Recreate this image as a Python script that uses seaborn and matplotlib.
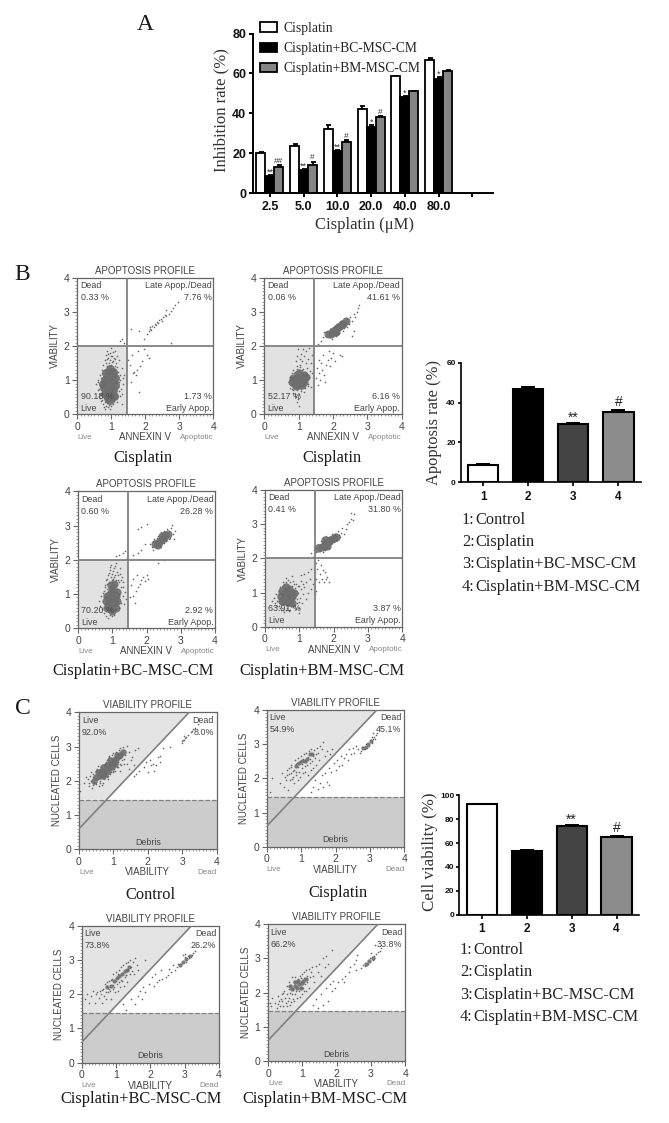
import matplotlib
matplotlib.use('Agg')
import matplotlib.pyplot as plt
from matplotlib.ticker import MultipleLocator
import seaborn as sns
import pandas as pd

W, H = 669, 1123
SERIF = 'Liberation Serif'
SANS  = 'Liberation Sans'

# ── DATA: panel A ─────────────────────────────────────
doses     = ['2.5', '5.0', '10.0', '20.0', '40.0', '80.0']
groups_a  = ['Cisplatin', 'Cisplatin+BC-MSC-CM', 'Cisplatin+BM-MSC-CM']
cis_vals  = [20, 23.5, 32, 42, 58.5, 66.5]
bc_vals   = [8.5, 11.5, 21, 33, 48, 57]
bm_vals   = [13, 14, 25.5, 38, 51, 61]
cis_errs  = [0.4, 1.2, 2.0, 1.5, 0.4, 1.0]
bc_errs   = [0.4, 0.5, 0.7, 1.0, 0.5, 1.3]
bm_errs   = [0.8, 1.6, 1.0, 0.5, 0.4, 0.7]
bc_marks  = ['**', '**', '**', '*', '*', '*']
bm_marks  = ['##', '#', '#', '#', '', '']

# ── DATA: side bars ───────────────────────────────────
bar_labels = ['1', '2', '3', '4']
apo_vals   = [8.7, 47, 29, 35.5]
apo_errs   = [0.5, 0.9, 0.8, 0.9]
via_vals   = [92.5, 53, 74, 65]
via_errs   = [0.5, 0.8, 1.0, 1.0]
side_marks = ['', '', '**', '#']
key_nums   = ['1:', '2:', '3:', '4:']
key_lines  = ['Control', 'Cisplatin', 'Cisplatin+BC-MSC-CM', 'Cisplatin+BM-MSC-CM']

# ── DATA: flow panels ─────────────────────────────────
apo_pct = [['0.33 %', '7.76 %', '90.18 %', '1.73 %'],
           ['0.06 %', '41.61 %', '52.17 %', '6.16 %'],
           ['0.60 %', '26.28 %', '70.20 %', '2.92 %'],
           ['0.41 %', '31.80 %', '63.91 %', '3.87 %']]
via_pct = [['92.0%', '8.0%'], ['54.9%', '45.1%'], ['73.8%', '26.2%'], ['66.2%', '33.8%']]

b1_core = [(.95,.85),(.9,.75),(1.0,.8),(.85,.9),(.95,1.0),(1.05,.95),(.9,.6),(1.0,.65),(.92,.5),(.98,1.1),
           (.88,1.05),(1.02,1.15),(.95,1.25),(.97,.42),(.9,.47),(1.0,.52),(.93,.7),(.85,.65),(1.05,.72),(.97,1.33),
           (.78,.8),(1.12,.85),(.8,1.0),(1.1,1.05),(.82,.6),(1.08,.55),(.85,1.2),(1.05,1.25),(.75,.9)]
b1_pts = [(.55,.9),(.6,.7),(.62,1.0),(.65,.55),(.66,.85),(.68,1.15),(.7,.4),(.7,.7),(.72,1.3),(.73,.95),(.75,.3),(.75,.6),
          (.76,1.45),(.78,1.1),(.78,.2),(.8,.35),(.8,1.6),(.8,1.3),(.82,.15),(.83,1.75),(.85,1.5),(.85,.25),(.87,1.4),(.88,1.85),
          (.9,1.65),(.9,.2),(.92,1.5),(.95,1.8),(.95,.15),(.97,1.6),(1.0,1.95),(1.0,1.45),(1.0,.25),(1.03,1.7),(1.05,1.55),(1.05,.3),
          (1.08,1.3),(1.1,1.85),(1.1,.45),(1.12,1.1),(1.13,1.5),(1.15,.7),(1.15,.95),(1.18,.35),(1.2,1.25),(1.2,.8),(1.22,1.6),(1.25,.55),
          (1.25,1.0),(1.28,.75),(1.3,1.35),(1.32,.3),(1.35,.9),(1.38,1.15),(1.25,2.15),(1.3,2.2),(1.38,2.1),(.7,1.05),(.74,.8),(.8,.5),
          (1.12,.6),(1.1,1.4),(.78,.9),(1.15,1.2),(.82,1.2),(1.18,.55),(.68,.6),(.84,.42),(1.22,.95),(1.08,1.65),
          (.86,1.62),(.9,1.78),(.93,1.42),(.98,1.72),(1.02,1.52),(1.06,1.82),(1.12,1.62),(1.16,1.38),(1.18,1.72),(.72,1.2),(.64,.75),(.6,.95),
          (.68,.48),(.74,.42),(.88,.32),(.94,.28),(1.08,.38),(1.14,.48),(1.22,.68),(1.26,1.15),(1.3,.6),(1.33,1.05),
          (1.5,1.6),(1.55,1.45),(1.58,.95),(1.6,1.75),(1.65,1.2),(1.68,1.25),(1.72,1.15),(1.75,1.3),(1.78,1.85),(1.8,.65),(1.85,1.4),(1.9,1.55),
          (1.95,1.9),(2.05,1.75),(2.1,1.65),(1.58,2.5),(1.8,2.45),(1.95,2.2),(2.05,2.35),(2.75,2.1),
          (2.1,2.45),(2.13,2.5),(2.15,2.55),(2.18,2.48),(2.2,2.6),(2.25,2.55),(2.28,2.65),(2.3,2.62),(2.35,2.7),(2.38,2.68),(2.4,2.75),(2.45,2.8),
          (2.5,2.72),(2.52,2.85),(2.58,2.9),(2.62,2.88),(2.7,2.95),(2.75,3.02),(2.8,3.1),(2.88,3.2),(2.95,3.3),(2.6,3.05)]

b2_core = [(1.0,1.0),(.95,.95),(1.05,1.05),(1.1,1.1),(.9,1.0),(1.0,.85),(1.05,.95),(1.12,1.0),(.95,1.1),(.88,.9),(1.15,1.15),
           (.85,1.05),(1.15,.95),(.82,.95),(1.2,1.1),(.92,.82),(1.1,.85),(1.0,1.2),
           (1.85,2.35),(1.95,2.35),(2.05,2.4),(2.0,2.45),(2.1,2.5),(2.15,2.55),(2.2,2.6),(2.25,2.65),(2.3,2.65),(2.38,2.72),(2.1,2.42)]
b2_pts = [(.72,.95),(.75,1.1),(.78,.85),(.8,1.2),(.8,.75),(.82,1.05),(.85,1.3),(.85,.7),(.88,.6),(.9,1.25),(.92,.5),(.95,1.4),(.95,.72),(.98,.45),
          (1.0,1.3),(1.02,.6),(1.05,1.45),(1.08,.75),(1.1,1.3),(1.12,.82),(1.15,.65),(1.18,1.25),(1.2,.95),(1.22,1.15),(1.25,1.35),(1.28,.9),(1.3,1.1),(1.35,.8),(1.38,1.2),
          (.92,1.55),(.95,1.7),(.98,1.9),(1.05,1.62),(1.08,1.78),(1.1,1.55),(1.12,1.92),(1.15,1.7),(1.2,1.5),(1.22,1.85),(1.28,1.62),(1.3,1.95),(1.35,1.5),(1.4,1.75),(.95,.35),(1.0,.25),
          (.74,1.0),(.76,.78),(.84,.62),(.86,1.22),(.94,1.32),(1.04,1.38),(1.06,.68),(1.14,1.32),(1.18,.78),(1.24,1.02),(1.26,.82),(1.32,1.28),(.9,.55),(.8,1.1),
          (1.5,1.05),(1.52,1.35),(1.55,.85),(1.58,1.6),(1.6,1.2),(1.62,1.0),(1.65,1.5),(1.68,1.3),(1.72,1.75),(1.75,1.15),(1.78,.95),(1.8,1.45),(1.85,1.6),(1.88,1.85),(1.9,1.4),(1.95,1.65),(2.0,1.8),(2.05,1.55),(2.2,1.75),(2.25,1.7),
          (1.55,2.05),(1.65,2.15),(1.72,2.25),(1.75,2.4),(1.8,2.28),(1.82,2.42),(1.9,2.25),(1.92,2.5),(1.98,2.2),(2.02,2.55),(2.08,2.3),(2.12,2.62),(2.18,2.38),(2.22,2.72),(2.28,2.45),(2.32,2.52),(2.4,2.55),(2.42,2.8),(2.48,2.65),(2.5,2.85),(2.55,2.72),(2.6,2.95),(2.65,2.85),(2.62,2.45),(2.7,3.0),(2.72,3.12),(2.75,3.2),(2.55,2.3)]

b3_core = [(1.0,.8),(.95,.7),(1.05,.85),(.9,.85),(1.0,.95),(1.08,.75),(.98,.6),(1.03,1.05),(.92,1.0),(1.1,.95),(.88,.7),(1.0,1.15),(.95,1.25),(.98,.5),(1.05,1.3),
           (.82,.8),(1.15,.8),(.85,.95),(1.15,1.05),(.85,.6),(1.1,.6),
           (2.25,2.45),(2.32,2.5),(2.38,2.55),(2.45,2.6),(2.52,2.65),(2.45,2.7),(2.55,2.72),(2.62,2.75),(2.35,2.42)]
b3_pts = [(.6,.8),(.65,.65),(.68,.95),(.7,.55),(.72,.8),(.75,1.1),(.75,.45),(.78,.7),(.8,1.25),(.8,.95),(.82,.35),(.82,1.4),(.85,.55),(.85,1.15),(.88,1.55),(.88,.3),(.9,1.35),(.92,1.7),(.93,.4),(.95,1.5),
          (.97,1.85),(1.0,1.6),(1.0,.35),(1.03,1.45),(1.05,1.75),(1.05,.4),(1.08,1.55),(1.1,1.25),(1.1,1.9),(1.12,.55),(1.13,1.05),(1.15,1.65),(1.15,.8),(1.18,1.4),(1.2,.6),(1.2,1.0),(1.22,1.75),(1.25,1.2),(1.25,.75),(1.28,1.5),(1.3,.95),(1.32,1.35),(1.35,.7),(1.38,1.05),(1.4,.85),(1.1,2.1),(1.2,2.15),(1.3,2.2),(1.38,2.25),(1.42,2.05),
          (.78,.6),(.86,.75),(.9,1.1),(1.12,.7),(1.15,1.15),(.76,.9),(1.18,.9),(.84,1.3),
          (.86,1.45),(.9,1.62),(.94,1.78),(.98,1.42),(1.02,1.68),(1.06,1.5),(1.08,1.82),(1.12,1.42),(1.16,1.55),(1.2,1.35),(1.24,1.6),(1.26,1.42),(1.3,1.22),(.78,1.2),(.72,1.02),
          (1.52,.9),(1.55,1.25),(1.6,.95),(1.62,1.45),(1.65,.75),(1.7,1.1),(1.72,1.55),(1.75,1.2),(1.8,1.3),(1.85,1.4),(1.9,1.5),(1.95,1.38),(2.0,1.55),(2.05,1.45),(1.6,2.15),(1.75,2.2),(1.85,2.3),(2.35,1.9),(2.5,2.0),
          (1.75,2.9),(1.85,2.95),(2.0,3.05),(1.95,2.45),(2.1,2.45),(2.15,2.38),(2.18,2.55),(2.2,2.3),(2.22,2.62),(2.28,2.35),(2.3,2.65),(2.35,2.7),(2.4,2.4),(2.42,2.8),(2.5,2.5),(2.52,2.85),(2.58,2.55),(2.6,2.9),(2.65,2.62),(2.7,2.65),(2.72,2.92),(2.75,3.02),(2.78,2.75),(2.82,2.85),(2.8,2.6)]

b4_core = [(.65,.9),(.6,.85),(.7,.95),(.55,.95),(.65,1.05),(.72,.8),(.62,.75),(.75,1.0),(.68,.72),(.58,.78),(.8,.9),(.55,.85),(.7,1.1),
           (.47,.9),(.5,.75),(.85,1.0),(.78,.7),(.6,1.15),(.5,1.05),
           (1.55,2.3),(1.65,2.32),(1.72,2.35),(1.78,2.45),(1.85,2.5),(1.8,2.35),(1.9,2.55),(2.0,2.6),(2.08,2.62),(1.75,2.55)]
b4_pts = [(.2,.75),(.25,.85),(.3,.7),(.32,.95),(.35,.6),(.38,.85),(.4,1.05),(.42,.75),(.45,.55),(.45,1.15),(.48,.65),(.5,1.2),(.5,.95),(.52,.5),(.55,1.25),(.55,.65),(.58,1.1),(.6,.5),(.62,1.3),(.65,.55),(.68,1.2),(.7,.45),(.72,1.3),(.75,.6),(.78,1.2),(.8,.7),(.82,1.35),(.85,.6),(.85,1.05),(.88,.85),(.9,1.25),(.92,.7),(.95,1.0),(.98,.55),(1.0,1.2),(1.02,.85),(1.05,1.35),(1.08,.7),(1.1,.95),(1.15,1.15),(1.18,.8),(1.2,1.3),(1.25,1.0),(1.3,1.4),(1.35,1.1),(1.4,1.25),(1.05,1.5),(1.15,1.55),(1.25,1.6),(1.35,1.7),(1.0,.4),(.6,1.42),(.78,1.48),
          (.36,.75),(.4,.6),(.44,1.0),(.46,.48),(.52,1.32),(.56,.42),(.66,1.38),(.74,.5),(.84,1.25),(.9,.52),(.96,1.2),(1.0,.72),(1.06,1.1),(1.12,1.25),(.94,.82),(.88,1.12),
          (1.45,1.6),(1.48,1.85),(1.5,1.4),(1.52,1.7),(1.55,1.95),(1.58,1.3),(1.6,1.55),(1.62,1.8),(1.65,1.4),(1.68,1.65),(1.72,1.3),(1.75,1.6),(1.78,1.4),(1.82,1.45),(1.85,1.3),(1.5,1.05),(1.45,.95),
          (1.35,2.15),(1.4,2.05),(1.42,2.25),(1.48,2.3),(1.5,2.18),(1.55,2.42),(1.6,2.22),(1.62,2.5),(1.68,2.2),(1.7,2.6),(1.75,2.25),(1.78,2.65),(1.85,2.3),(1.88,2.62),(1.92,2.42),(1.95,2.72),(2.0,2.48),(2.05,2.72),(2.1,2.55),(2.12,2.8),(2.15,2.68),(2.18,2.62),(2.22,2.75),(2.25,2.9),(2.3,2.7),(2.35,2.85),(2.4,3.0),(2.45,3.05),(2.5,3.15),(2.55,3.12),(2.6,3.3),(2.52,3.32)]

c1_core = [(.5,2.1),(.6,2.15),(.65,2.25),(.72,2.3),(.78,2.35),(.82,2.45),(.88,2.42),(.92,2.52),(.98,2.55),(1.02,2.62),(1.08,2.65),(1.15,2.72),(1.2,2.75),(1.28,2.85),(.7,2.15),(.85,2.3),
           (.45,2.0),(.55,2.25),(.75,2.2),(.7,2.4),(.95,2.4),(.9,2.6),(1.05,2.5),(1.1,2.75)]
c1_pts = [(.0,1.9),(.02,1.7),(.15,1.95),(.2,2.1),(.25,2.05),(.28,1.85),(.3,1.95),(.32,2.15),(.35,2.0),(.38,1.8),(.4,2.1),(.42,2.2),(.45,1.95),(.48,2.3),(.5,1.9),(.52,2.35),(.55,2.05),(.58,1.85),(.6,2.35),(.62,2.0),(.65,2.4),(.68,2.1),(.7,1.95),(.72,2.45),(.75,2.15),(.78,2.55),(.8,2.1),(.82,2.6),(.85,2.15),(.88,2.7),(.9,2.2),(.92,2.35),(.95,2.75),(.98,2.3),(1.0,2.8),(1.02,2.35),(1.05,2.45),(1.08,2.85),(1.1,2.4),(1.12,2.55),(1.15,2.9),(1.18,2.5),(1.2,2.95),(1.25,2.6),(1.28,2.98),(1.3,2.65),(1.35,2.75),(1.38,3.02),(1.4,2.5),(1.45,2.85),(1.5,2.6),(1.55,2.7),(1.6,2.45),(1.62,2.9),(1.65,2.2),(1.7,2.95),(1.2,2.3),(1.45,2.35),
          (.36,2.25),(.42,1.88),(.5,2.28),(.56,2.42),(.6,1.95),(.66,1.88),(.74,2.05),(.76,2.5),(.84,2.05),(.86,2.72),(.94,2.25),(1.0,2.25),(1.06,2.3),(1.14,2.4),(1.22,2.45),(1.32,2.5),
          (1.6,2.15),(1.75,2.3),(1.9,2.4),(1.95,2.55),(2.0,2.25),(2.05,2.62),(2.1,2.45),(2.15,2.5),(2.18,2.3),(2.25,2.45),(2.3,2.7),(2.35,2.55),(2.35,2.72),(2.45,2.95),(2.65,3.0),
          (2.98,3.15),(3.02,3.2),(3.05,3.18),(3.08,3.25),(3.12,3.28),(3.18,3.35),(3.25,3.42),(3.28,3.45),(3.32,3.5),(3.38,3.55),(3.45,3.65),(3.05,3.3),(3.0,3.1)]

c2_core = [(.85,2.35),(.95,2.45),(1.02,2.5),(1.1,2.52),(1.18,2.58),(1.25,2.7),(1.32,2.72),(2.8,2.88),(2.88,2.93),(2.95,3.0),(3.02,3.08)]
c2_pts = [(.1,1.6),(.15,2.0),(.4,1.85),(.45,2.15),(.5,1.75),(.52,2.05),(.55,1.95),(.58,2.25),(.6,2.1),(.62,1.65),(.65,2.3),(.68,1.95),(.7,2.15),(.72,2.4),(.75,2.05),(.78,1.85),(.8,2.25),(.82,2.55),(.85,2.1),(.88,2.45),(.9,1.95),(.92,2.6),(.95,2.2),(.98,2.05),(1.0,2.65),(1.02,2.3),(1.05,2.15),(1.08,2.7),(1.1,2.35),(1.12,2.2),(1.15,2.75),(1.18,2.4),(1.2,2.1),(1.22,2.8),(1.25,2.45),(1.28,2.25),(1.3,2.85),(1.32,2.5),(1.35,2.3),(1.38,2.82),(1.4,2.6),(1.42,2.4),(1.45,2.9),(1.5,2.75),(1.52,2.55),(1.55,2.95),(1.6,2.85),(1.65,3.05),(1.7,2.65),(1.75,2.8),(1.85,2.7),(1.9,2.85),
          (.66,2.12),(.7,2.32),(.74,1.98),(.76,2.22),(.84,2.42),(.86,2.18),(.92,2.32),(.96,2.52),(1.04,2.42),(1.06,2.58),(1.14,2.48),(1.2,2.62),(1.26,2.58),(1.34,2.65),(1.44,2.7),
          (1.3,1.6),(1.35,1.75),(1.4,1.95),(1.48,1.7),(1.55,1.85),(1.6,2.1),(1.65,1.75),(1.7,2.15),(1.75,1.9),(1.8,2.3),(1.82,1.8),(1.88,2.2),(1.95,2.45),(2.0,2.25),(2.05,2.55),(2.1,2.35),(2.15,2.65),(2.2,2.4),(2.25,2.6),(2.3,2.7),(2.35,2.55),(2.4,2.85),(2.45,2.7),(2.5,2.9),(2.55,2.75),(2.6,2.95),(2.65,2.85),(2.7,2.75),
          (2.75,2.8),(2.78,2.92),(2.85,2.85),(2.9,3.0),(2.98,2.95),(3.02,3.12),(3.05,3.02),(3.08,3.15),(3.12,3.2),(3.15,3.15),(3.18,3.28),(3.2,3.32),(3.1,3.32),(3.05,3.2)]

c3_core = [(.75,2.2),(.85,2.25),(.95,2.38),(1.02,2.48),(1.1,2.52),(1.18,2.58),(1.25,2.68),(1.32,2.72),(1.38,2.8),(2.85,2.85),(2.95,2.93),(3.05,3.02),(3.15,3.12)]
c3_pts = [(.1,1.85),(.15,2.0),(.22,1.75),(.28,1.95),(.32,2.1),(.38,1.75),(.42,2.0),(.45,2.05),(.5,1.9),(.52,2.1),(.55,2.0),(.6,1.75),(.62,2.15),(.65,1.95),(.68,2.3),(.7,2.05),(.72,1.85),(.75,2.35),(.78,2.05),(.8,2.4),(.82,2.1),(.85,1.85),(.88,2.45),(.9,2.15),(.92,2.6),(.95,2.2),(.98,2.05),(1.0,2.65),(1.02,2.3),(1.05,2.1),(1.08,2.7),(1.1,2.35),(1.12,2.2),(1.15,2.78),(1.18,2.4),(1.2,2.85),(1.22,2.25),(1.25,2.5),(1.28,2.9),(1.3,2.55),(1.32,2.35),(1.35,2.95),(1.4,2.6),(1.42,3.0),(1.45,2.8),(1.5,2.95),(1.52,2.6),(1.55,3.05),(1.6,2.85),(1.65,2.7),(1.75,2.5),(1.85,3.0),
          (.58,2.12),(.72,2.25),(.8,2.15),(.86,2.42),(.92,2.28),(1.0,2.4),(1.06,2.6),(1.14,2.42),(1.2,2.62),(1.28,2.55),(1.36,2.7),(1.46,2.68),
          (1.2,1.7),(1.3,1.55),(1.45,1.85),(1.55,1.7),(1.65,1.95),(1.7,2.1),(1.75,1.85),(1.8,2.2),(1.85,2.05),(1.95,2.3),(2.05,2.5),(2.1,2.25),(2.15,2.6),(2.2,2.35),(2.25,2.42),(2.3,2.72),(2.35,2.45),(2.45,2.5),(2.5,2.55),(2.55,2.75),(2.6,2.65),(2.65,2.85),
          (2.72,2.72),(2.78,2.8),(2.82,2.88),(2.9,2.88),(3.0,3.1),(3.05,2.95),(3.1,3.12),(3.12,3.05),(3.2,3.15),(3.25,3.2),(3.3,3.25),(2.95,3.15),(3.02,3.18)]

c4_core = [(.7,2.1),(.8,2.2),(.85,2.15),(.9,2.25),(.98,2.28),(1.02,2.35),(1.1,2.4),(.78,2.3),(.65,2.2),(.95,2.15),(.88,2.35),(2.85,2.85),(2.95,2.92),(3.05,3.02)]
c4_pts = [(.05,1.7),(.1,1.6),(.12,1.85),(.2,1.7),(.25,1.55),(.3,1.9),(.32,1.75),(.35,1.6),(.4,1.95),(.42,1.75),(.45,1.6),(.48,2.05),(.5,1.85),(.52,1.7),(.55,1.95),(.58,1.75),(.6,2.1),(.62,1.85),(.65,1.65),(.68,2.2),(.7,1.95),(.72,1.8),(.75,2.35),(.78,1.95),(.8,2.45),(.82,2.05),(.85,1.85),(.88,2.4),(.9,2.05),(.92,2.5),(.95,2.15),(.98,1.95),(1.0,2.55),(1.02,2.15),(1.05,2.6),(1.08,2.25),(1.1,2.05),(1.12,2.65),(1.15,2.3),(1.18,2.7),(1.2,2.15),(1.22,2.45),(1.28,2.75),(1.3,2.5),(1.35,2.3),(1.4,2.78),(1.45,2.6),(1.5,2.85),(1.55,2.5),(1.6,3.0),(1.65,2.75),(1.7,3.08),(1.75,2.85),(1.85,3.25),(.55,2.2),(.6,2.3),(.7,2.45),
          (.28,1.68),(.38,1.82),(.44,2.0),(.56,1.62),(.64,1.98),(.68,1.72),(.74,2.1),(.76,1.75),(.84,2.32),(.92,1.88),(.96,2.42),(1.04,2.05),(1.06,2.42),(1.14,2.5),(1.24,2.6),
          (1.3,1.65),(1.4,1.8),(1.45,1.55),(1.55,1.95),(1.6,1.65),(1.68,2.15),(1.75,1.75),(1.8,2.25),(1.85,2.05),(1.9,2.35),(1.95,2.15),(2.05,2.3),(2.15,2.4),(2.2,2.3),(2.25,2.5),(2.35,2.6),(2.4,2.75),(2.5,2.85),(2.55,2.95),(2.6,3.1),(2.55,2.65),
          (2.72,2.72),(2.78,2.82),(2.82,2.78),(2.9,2.85),(2.98,3.0),(3.05,2.95),(3.1,3.08),(3.15,3.12),(3.2,3.2),(3.25,3.22),(3.3,3.3),(3.12,3.4),(3.0,3.15)]

# ── SETUP ─────────────────────────────────────────────
sns.set_theme(style='ticks')
plt.rcParams['font.family'] = [SANS, 'DejaVu Sans']

fig = plt.figure(figsize=(W / 100, H / 100), dpi=100, facecolor='white')


def px_axes(left, top, right, bottom):
    return fig.add_axes([left / W, 1 - bottom / H, (right - left) / W, (bottom - top) / H])


def ft(x, y, s, size=11.8, family=SERIF, color='#1a1a1a', **kw):
    kw.setdefault('ha', 'center')
    kw.setdefault('va', 'center')
    fig.text(x / W, 1 - y / H, s, fontsize=size, family=family, color=color, **kw)


def upper_errors(ax, container, vals, errs, width=1.3, cap=2.5):
    xs = [b.get_x() + b.get_width() / 2 for b in container]
    ax.errorbar(xs, vals, yerr=[[0] * len(errs), errs], fmt='none', ecolor='black',
                elinewidth=width, capsize=cap, capthick=width, zorder=1)
    return xs


# ── PANEL A ───────────────────────────────────────────
ax = px_axes(253, 33.5, 492.7, 193)
long_a = pd.DataFrame({
    'dose': doses * 3,
    'group': [g for g in groups_a for _ in doses],
    'rate': cis_vals + bc_vals + bm_vals,
})
sns.barplot(data=long_a, x='dose', y='rate', hue='group', order=doses + [''],
            palette=['white', 'black', '#858585'], saturation=1, errorbar=None,
            edgecolor='black', linewidth=1.3, width=0.8, gap=0, ax=ax, zorder=2)
for cont, vals, errs, marks in zip(ax.containers[:3], [cis_vals, bc_vals, bm_vals],
                                   [cis_errs, bc_errs, bm_errs],
                                   [[''] * 6, bc_marks, bm_marks]):
    xs = upper_errors(ax, cont, vals, errs, cap=1.8)
    for x, v, e, m in zip(xs, vals, errs, marks):
        if m:
            ax.text(x, v + e + (0.3 if '#' in m else -0.8), m, ha='center', va='bottom',
                    fontsize=6 if '#' in m else 6.5, color='#333333')
ax.set_xlim(-0.5, 6.6)
ax.set_ylim(0, 80)
ax.set_yticks([0, 20, 40, 60, 80])
ax.set_xlabel('')
ax.set_ylabel('')
sns.despine(ax=ax)
ax.spines[['left', 'bottom']].set_linewidth(1.4)
ax.spines[['left', 'bottom']].set_color('black')
ax.tick_params(axis='y', width=1.4, length=3, color='black', pad=2, labelsize=9, labelcolor='#111111')
ax.tick_params(axis='x', width=1.4, length=3, color='black', pad=3, labelsize=9, labelcolor='#111111')
plt.setp(ax.get_xticklabels() + ax.get_yticklabels(), fontweight='bold')
handles, labels = ax.get_legend_handles_labels()
ax.get_legend().remove()
fig.legend(handles, labels, loc='upper left', bbox_to_anchor=(260 / W, 1 - 22 / H), frameon=False,
           prop={'family': SERIF, 'size': 9.8}, handlelength=1.25, handleheight=0.7,
           handletextpad=0.45, labelspacing=0.52, borderpad=0, borderaxespad=0)
ft(145, 24, 'A', size=17)
ft(221, 110, 'Inhibition rate (%)', size=12, rotation=90, color='#333333')
ft(365, 225, 'Cisplatin (μM)', size=12, color='#333333')


# ── SIDE BARS ─────────────────────────────────────────
def side_bar(box, vals, errs, yticks, ylab, ylab_pos, ylab_size, key_x, key_ys):
    ax = px_axes(*box)
    sns.barplot(x=bar_labels, y=vals, hue=bar_labels, order=bar_labels, legend=False,
                palette=['white', 'black', '#444444', '#8c8c8c'], saturation=1, errorbar=None,
                edgecolor='black', linewidth=1.5, width=0.67, ax=ax, zorder=2)
    bars = [c[0] for c in ax.containers]
    xs = upper_errors(ax, bars, vals, errs, width=1.4, cap=5)
    for x, v, e, m in zip(xs, vals, errs, side_marks):
        if m:
            ax.text(x, v + e + yticks[-1] * (0.005 if m == '#' else -0.015), m, ha='center', va='bottom',
                    fontsize=10, color='#222222')
    ax.set_xlim(-0.5, 3.5)
    ax.set_ylim(0, yticks[-1])
    ax.set_yticks(yticks)
    sns.despine(ax=ax)
    ax.spines[['left', 'bottom']].set_linewidth(1.2)
    ax.spines[['left', 'bottom']].set_color('black')
    ax.tick_params(axis='y', width=1.2, length=2.5, color='black', pad=1, labelsize=6, labelcolor='#111111')
    ax.tick_params(axis='x', width=1.2, length=3, color='black', pad=3, labelsize=8.5, labelcolor='#111111')
    plt.setp(ax.get_xticklabels() + ax.get_yticklabels(), fontweight='bold')
    ft(ylab_pos[0], ylab_pos[1], ylab, size=ylab_size, rotation=90, color='#333333')
    for num, line, y in zip(key_nums, key_lines, key_ys):
        ft(key_x, y, num, size=11.8, ha='left', color='#222222')
        ft(key_x + 13.5, y, line, size=11.8, ha='left', color='#222222')


side_bar((460.7, 362.7, 641, 482.3), apo_vals, apo_errs, [0, 20, 40, 60], 'Apoptosis rate (%)',
         (434, 422), 11.9, 462, [520, 542, 564, 587])
side_bar((459.3, 795.3, 639, 914.7), via_vals, via_errs, [0, 20, 40, 60, 80, 100], 'Cell viability (%)',
         (430, 852), 12.2, 460, [950, 972, 995, 1017])


# ── FLOW PANELS ───────────────────────────────────────
def flow_axes(box, title, xlab, ylab, right_lab, pts, core, core_s):
    ax = px_axes(*box)
    sns.scatterplot(data=pd.DataFrame(core, columns=['x', 'y']), x='x', y='y', s=core_s, color='#6e6e6e',
                    alpha=0.9, linewidth=0, legend=False, ax=ax, zorder=3)
    sns.scatterplot(data=pd.DataFrame(pts, columns=['x', 'y']), x='x', y='y', s=1.4, color='#666666',
                    linewidth=0, legend=False, ax=ax, zorder=3)
    ax.set_xlim(0, 4)
    ax.set_ylim(0, 4)
    for spine in ax.spines.values():
        spine.set_color('#666666')
        spine.set_linewidth(0.9)
    ax.xaxis.set_major_locator(MultipleLocator(1))
    ax.yaxis.set_major_locator(MultipleLocator(1))
    ax.xaxis.set_minor_locator(MultipleLocator(0.1))
    ax.yaxis.set_minor_locator(MultipleLocator(0.1))
    ax.tick_params(which='major', length=3.5, width=0.8, color='#666666', labelsize=7.5, labelcolor='#444444', pad=2)
    ax.tick_params(which='minor', length=1.5, width=0.5, color='#777777')
    ax.set_title(title, fontsize=7, color='#444444', pad=3)
    ax.set_xlabel(xlab, fontsize=7, color='#444444', va='center')
    ax.set_ylabel(ylab, fontsize=7, color='#444444', va='center')
    ax.xaxis.set_label_coords(0.5, -0.168)
    ax.yaxis.set_label_coords(-0.163, 0.5)
    ax.text(0, -0.168, 'Live', transform=ax.transAxes, fontsize=5.8, color='#888888', ha='left', va='center')
    ax.text(1, -0.168, right_lab, transform=ax.transAxes, fontsize=5.8, color='#888888', ha='right', va='center')
    return ax


def apoptosis(box, pct, pts, core, core_s):
    ax = flow_axes(box, 'APOPTOSIS PROFILE', 'ANNEXIN V', 'VIABILITY', 'Apoptotic', pts, core, core_s)
    ax.fill_between([0, 1.45], 0, 2, color='#e2e2e2', linewidth=0, zorder=0)
    ax.axvline(1.45, color='#808080', lw=1.3, zorder=4)
    ax.axhline(2, color='#808080', lw=1.3, zorder=4)
    opts = dict(fontsize=6.4, color='#444444', va='center', zorder=5)
    ax.text(0.1, 3.77, 'Dead', ha='left', **opts)
    ax.text(0.1, 3.42, pct[0], ha='left', **opts)
    ax.text(3.95, 3.77, 'Late Apop./Dead', ha='right', **opts)
    ax.text(3.95, 3.42, pct[1], ha='right', **opts)
    ax.text(0.1, 0.53, pct[2], ha='left', **opts)
    ax.text(0.1, 0.18, 'Live', ha='left', **opts)
    ax.text(3.95, 0.53, pct[3], ha='right', **opts)
    ax.text(3.95, 0.18, 'Early Apop.', ha='right', **opts)


def viability(box, pct, pts, core, core_s):
    ax = flow_axes(box, 'VIABILITY PROFILE', 'VIABILITY', 'NUCLEATED CELLS', 'Dead', pts, core, core_s)
    ax.fill_between([0, 4], 0, 1.45, color='#cccccc', linewidth=0, zorder=0)
    ax.fill([0, 0, 3.2, 0.8], [1.45, 4, 4, 1.45], color='#e4e4e4', linewidth=0, zorder=0)
    ax.plot([0, 3.2], [0.6, 4], color='#808080', lw=1.2, zorder=4)
    ax.axhline(1.45, color='#808080', lw=0.9, ls='--', zorder=4)
    opts = dict(fontsize=6.4, color='#444444', va='center', zorder=5)
    ax.text(0.08, 3.77, 'Live', ha='left', **opts)
    ax.text(0.08, 3.42, pct[0], ha='left', **opts)
    ax.text(3.92, 3.77, 'Dead', ha='right', **opts)
    ax.text(3.92, 3.42, pct[1], ha='right', **opts)
    ax.text(2.0, 0.2, 'Debris', ha='center', **opts)


apoptosis((77.3, 277.7, 213.3, 414.3), apo_pct[0], b1_pts, b1_core, 42)
apoptosis((264.3, 277.7, 401.7, 414.3), apo_pct[1], b2_pts, b2_core, 34)
apoptosis((78, 491.3, 215, 628.3), apo_pct[2], b3_pts, b3_core, 34)
apoptosis((265, 490, 402.3, 626.7), apo_pct[3], b4_pts, b4_core, 36)
viability((79, 712.3, 216.7, 849.3), via_pct[0], c1_pts, c1_core, 22)
viability((266.7, 710, 404.3, 846.7), via_pct[1], c2_pts, c2_core, 9)
viability((81.7, 925.7, 219, 1062.7), via_pct[2], c3_pts, c3_core, 9)
viability((268, 924.3, 405.3, 1061), via_pct[3], c4_pts, c4_core, 10)

# ── CAPTIONS ──────────────────────────────────────────
ft(22, 275, 'B', size=17)
ft(23, 708, 'C', size=17)
ft(143, 458, 'Cisplatin')
ft(332, 458, 'Cisplatin')
ft(133, 671, 'Cisplatin+BC-MSC-CM')
ft(322, 671, 'Cisplatin+BM-MSC-CM')
ft(150, 895, 'Control')
ft(338, 893, 'Cisplatin')
ft(141, 1099, 'Cisplatin+BC-MSC-CM')
ft(325, 1099, 'Cisplatin+BM-MSC-CM')

plt.savefig('out.png', dpi=100)
